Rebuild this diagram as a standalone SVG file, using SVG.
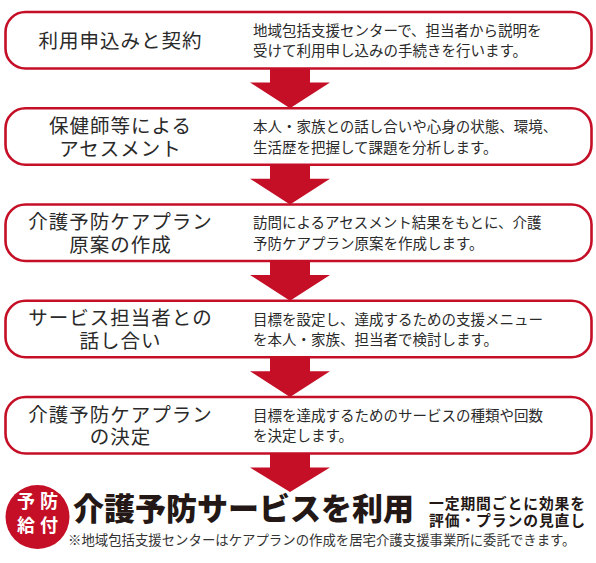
<svg xmlns="http://www.w3.org/2000/svg" width="596" height="563" viewBox="0 0 596 563">
<style>
.box{fill:#fff;stroke:#c40f27;stroke-width:2.6}
.arr{fill:#c40f27}
.lbl{font-family:"Noto Sans CJK JP","Noto Sans",sans-serif;font-size:19.5px;letter-spacing:1px;fill:#2a2a2a;text-anchor:middle}
.desc{font-family:"Noto Sans CJK JP","Noto Sans",sans-serif;font-size:14.5px;fill:#2a2a2a}
.badge{font-family:"Noto Sans CJK JP","Noto Sans",sans-serif;font-size:18px;font-weight:bold;fill:#fff;text-anchor:middle}
.main{font-family:"Noto Sans CJK JP","Noto Sans",sans-serif;font-size:31px;font-weight:900;fill:#231815}
.sub{font-family:"Noto Sans CJK JP","Noto Sans",sans-serif;font-size:14.8px;letter-spacing:0.9px;font-weight:bold;fill:#231815}
.note{font-family:"Noto Sans CJK JP","Noto Sans",sans-serif;font-size:13.4px;fill:#333}
</style>
<g id="connectors">
<path class="arr" d="M270,68.5 H310 V82.5 H330 L290,108.25 L250,82.5 H270 Z"/>
<path class="arr" d="M270,164.75 H310 V178.75 H330 L290,204.5 L250,178.75 H270 Z"/>
<path class="arr" d="M270,261 H310 V275 H330 L290,300.75 L250,275 H270 Z"/>
<path class="arr" d="M270,357.25 H310 V371.25 H330 L290,397 L250,371.25 H270 Z"/>
<path class="arr" d="M270,453.5 H310 V467.5 H330 L290,492 L250,467.5 H270 Z"/>
</g>
<g id="step1">
<rect class="box" x="5.5" y="12" width="586" height="56.5" rx="20"/>
<text class="lbl" x="120.5" y="47.8">利用申込みと契約</text>
<text class="desc" x="253" y="36"><tspan>地域包括支援センターで、担当者から説明を</tspan><tspan x="253" dy="20">受けて利用申し込みの手続きを行います。</tspan></text>
</g>
<g id="step2">
<rect class="box" x="5.5" y="108.25" width="586" height="56.5" rx="20"/>
<text class="lbl" x="120.5" y="133"><tspan>保健師等による</tspan><tspan x="120.5" dy="22.5">アセスメント</tspan></text>
<text class="desc" x="253" y="132"><tspan>本人・家族との話し合いや心身の状態、環境、</tspan><tspan x="253" dy="20.5">生活歴を把握して課題を分析します。</tspan></text>
</g>
<g id="step3">
<rect class="box" x="5.5" y="204.5" width="586" height="56.5" rx="20"/>
<text class="lbl" x="120.5" y="229"><tspan>介護予防ケアプラン</tspan><tspan x="120.5" dy="22.5">原案の作成</tspan></text>
<text class="desc" x="253" y="228.3"><tspan>訪問によるアセスメント結果をもとに、介護</tspan><tspan x="253" dy="20.5">予防ケアプラン原案を作成します。</tspan></text>
</g>
<g id="step4">
<rect class="box" x="5.5" y="300.75" width="586" height="56.5" rx="20"/>
<text class="lbl" x="120.5" y="325.2"><tspan>サービス担当者との</tspan><tspan x="120.5" dy="22.5">話し合い</tspan></text>
<text class="desc" x="253" y="324.5"><tspan>目標を設定し、達成するための支援メニュー</tspan><tspan x="253" dy="20.5">を本人・家族、担当者で検討します。</tspan></text>
</g>
<g id="step5">
<rect class="box" x="5.5" y="397" width="586" height="56.5" rx="20"/>
<text class="lbl" x="120.5" y="421.5"><tspan>介護予防ケアプラン</tspan><tspan x="120.5" dy="22.5">の決定</tspan></text>
<text class="desc" x="253" y="420.8"><tspan>目標を達成するためのサービスの種類や回数</tspan><tspan x="253" dy="20.5">を決定します。</tspan></text>
</g>
<g id="result">
<circle cx="37.5" cy="517" r="32" fill="#c40f27"/>
<text class="badge" x="26" y="508">予</text>
<text class="badge" x="49" y="508">防</text>
<text class="badge" x="26" y="532">給</text>
<text class="badge" x="49" y="532">付</text>
<text class="main" x="73" y="520">介護予防サービスを利用</text>
<text class="sub" x="429" y="509"><tspan>一定期間ごとに効果を</tspan><tspan x="429" dy="16.5">評価・プランの見直し</tspan></text>
<text class="note" x="68" y="545">※地域包括支援センターはケアプランの作成を居宅介護支援事業所に委託できます。</text>
</g>
</svg>
